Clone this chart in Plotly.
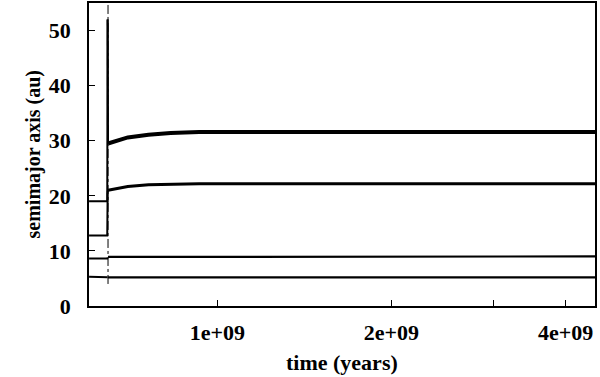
import plotly.graph_objects as go

# time samples (years), log-spaced x axis
time_yr = [6.0e8, 6.45e8, 6.46e8, 6.47e8, 6.6e8, 7.0e8, 7.6e8, 8.3e8, 9.3e8, 1.2e9, 2.0e9, 4.5e9]

# semimajor axes (au) for each planet at those times
jupiter = [5.3, 5.3, 5.2, 5.2, 5.2, 5.2, 5.2, 5.2, 5.2, 5.2, 5.2, 5.2]
saturn = [8.6, 8.6, 8.8, 8.9, 8.9, 9.0, 9.0, 9.0, 9.0, 9.0, 9.0, 9.0]
ice_inner = [12.8, 12.8, 20.6, 21.0, 21.2, 21.7, 22.0, 22.1, 22.2, 22.2, 22.2, 22.2]
ice_outer = [19.0, 19.0, 52.0, 29.5, 29.8, 30.6, 31.1, 31.4, 31.6, 31.6, 31.6, 31.6]

# instability marker
marker_t = [6.47e8, 6.47e8]
marker_a = [4.0, 55.0]

x_tickvals = [1e9, 2e9, 3e9, 4e9]
x_ticktext = ["1e+09", "2e+09", "", "4e+09"]
y_tickvals = [0, 10, 20, 30, 40, 50]

FONT = "Liberation Serif"
INK = "#000000"
SIZE = 22

fig = go.Figure()
fig.add_trace(go.Scatter(x=marker_t, y=marker_a, mode="lines",
                         line={"color": INK, "width": 1, "dash": "dashdot"},
                         showlegend=False, hoverinfo="skip"))

# pre-instability segments drawn thin, post-instability thicker (as in the source plot)
split = 2
for vals, w in ((jupiter, 2.2), (saturn, 2.2), (ice_inner, 3), (ice_outer, 4)):
    fig.add_trace(go.Scatter(x=time_yr[:split + 1], y=vals[:split + 1], mode="lines",
                             line={"color": INK, "width": 2}, showlegend=False))
    fig.add_trace(go.Scatter(x=time_yr[split + 1:], y=vals[split + 1:], mode="lines",
                             line={"color": INK, "width": w}, showlegend=False))
# the scattering spike and jump, thin
fig.add_trace(go.Scatter(x=time_yr[2:4], y=ice_outer[2:4], mode="lines",
                         line={"color": INK, "width": 2}, showlegend=False))
fig.add_trace(go.Scatter(x=time_yr[2:4], y=ice_inner[2:4], mode="lines",
                         line={"color": INK, "width": 2}, showlegend=False))

axis_common = {
    "showline": True, "linecolor": INK, "linewidth": 1.5, "mirror": True,
    "ticks": "inside", "ticklen": 6, "tickcolor": INK,
    "showgrid": False, "zeroline": False, "automargin": False,
    "tickfont": {"family": FONT, "size": SIZE, "color": INK, "weight": "bold"},
}

fig.update_layout(
    width=600, height=377,
    margin={"l": 89, "r": 5, "t": 3, "b": 71},
    paper_bgcolor="#ffffff", plot_bgcolor="#ffffff",
    font={"family": FONT, "color": INK},
    xaxis={
        **axis_common,
        "type": "log",
        "range": [8.778, 9.653],
        "tickvals": x_tickvals, "ticktext": x_ticktext,
        "ticklabelstandoff": 6,
    },
    yaxis={
        **axis_common,
        "range": [0, 55],
        "tickvals": y_tickvals,
        "ticklabelstandoff": 12,
    },
    annotations=[
        {"text": "<b>time (years)</b>", "xref": "paper", "yref": "paper",
         "x": 0.5, "y": 0, "yshift": -56, "yanchor": "middle", "showarrow": False,
         "font": {"family": FONT, "size": SIZE, "color": INK}},
        {"text": "<b>semimajor axis (au)</b>", "xref": "paper", "yref": "paper",
         "x": 0, "y": 0.5, "xshift": -56, "xanchor": "center", "yanchor": "middle",
         "textangle": -90, "showarrow": False,
         "font": {"family": FONT, "size": 20, "color": INK}},
    ],
)

# the page's default 8px body margin would shift the fixed-size figure
fig.write_html("out.html", config={"displayModeBar": False},
               post_script="document.body.style.margin='0';")
